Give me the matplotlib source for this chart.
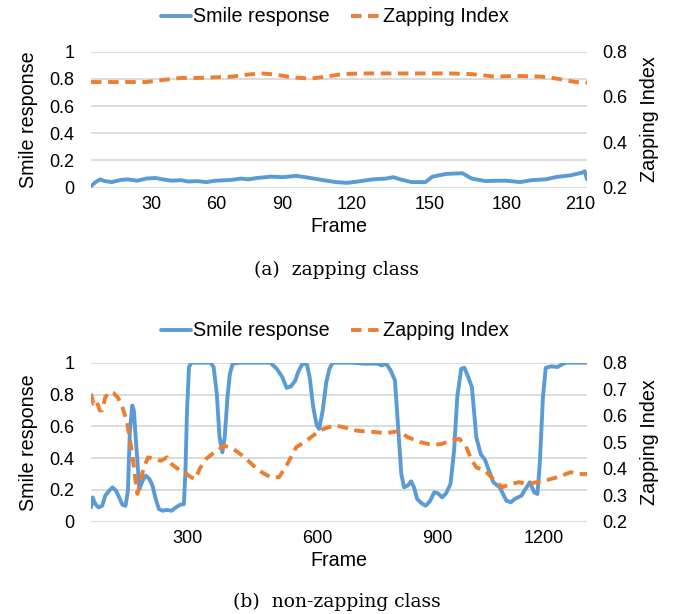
import matplotlib
matplotlib.use("Agg")
import matplotlib.pyplot as plt
from matplotlib.ticker import FuncFormatter

plt.rcParams["font.family"] = ["Liberation Sans", "DejaVu Sans"]

BLUE = "#5B9BD5"
ORANGE = "#ED7D31"
GRID = "#D9D9D9"

# ---- (a) zapping class : x = sample index along the Excel category axis ----
top_smile_x = [0, 2, 4, 6, 9, 13, 16, 20, 24, 28, 31, 35, 39, 42, 46, 50, 54, 61, 65, 68,
               72, 78, 83, 89, 95, 100, 106, 111, 117, 122, 128, 131, 134, 139, 145, 148,
               154, 161, 165, 171, 176, 180, 186, 191, 197, 202, 208, 213, 214, 215]
top_smile_y = [0.01, 0.04, 0.06, 0.047, 0.04, 0.056, 0.06, 0.05, 0.066, 0.07, 0.06, 0.05,
               0.054, 0.044, 0.047, 0.04, 0.05, 0.056, 0.066, 0.06, 0.07, 0.08, 0.076, 0.086,
               0.07, 0.056, 0.04, 0.034, 0.047, 0.06, 0.066, 0.076, 0.06, 0.04, 0.04, 0.08,
               0.10, 0.105, 0.066, 0.047, 0.05, 0.05, 0.04, 0.054, 0.06, 0.078, 0.09, 0.11,
               0.12, 0.06]
top_zap_x = [0, 24, 31, 39, 46, 54, 61, 68, 74, 80, 87, 95, 102, 109, 117, 156, 165, 175,
             184, 195, 202, 210, 215]
top_zap_y = [0.666, 0.666, 0.675, 0.684, 0.684, 0.687, 0.69, 0.699, 0.704, 0.699, 0.687,
             0.681, 0.69, 0.701, 0.704, 0.704, 0.701, 0.69, 0.693, 0.69, 0.681, 0.666, 0.663]
top_tick_labels = ["30", "60", "90", "120", "150", "180", "210"]
top_tick_at = [26.3, 54.5, 82.7, 113.1, 146.6, 180.0, 212.0]
top_xmax = 215

# ---- (b) non-zapping class ----
bot_smile_x = [0, 4, 11, 19, 28, 36, 46, 54, 63, 71, 79, 87, 93, 98, 104, 108, 115, 122,
               130, 138, 147, 155, 162, 171, 180, 192, 203, 214, 225, 234, 238, 242, 247,
               253, 301, 309, 317, 324, 331, 337, 344, 350, 357, 376, 452, 468, 482, 493,
               504, 515, 522, 533, 544, 551, 560, 569, 575, 584, 593, 601, 609, 657, 690,
               722, 733, 744, 755, 766, 774, 782, 789, 798, 807, 814, 822, 833, 843, 854,
               865, 874, 885, 895, 906, 915, 923, 933, 941, 949, 960, 971, 982, 993, 1003,
               1014, 1030, 1047, 1058, 1068, 1085, 1095, 1106, 1117, 1125, 1131, 1139, 1146,
               1160, 1176, 1187, 1198, 1250]
bot_smile_y = [0.09, 0.153, 0.11, 0.09, 0.10, 0.164, 0.195, 0.216, 0.195, 0.153, 0.107, 0.10,
               0.195, 0.574, 0.731, 0.70, 0.447, 0.206, 0.258, 0.29, 0.269, 0.227, 0.153,
               0.08, 0.069, 0.074, 0.069, 0.09, 0.107, 0.11, 0.32, 0.70, 0.973, 1.0, 1.0,
               0.973, 0.805, 0.531, 0.437, 0.531, 0.784, 0.93, 0.994, 1.0, 1.0, 0.962, 0.91,
               0.842, 0.851, 0.889, 0.941, 0.994, 0.99, 0.91, 0.72, 0.605, 0.584, 0.70, 0.878,
               0.962, 1.0, 1.0, 0.994, 0.994, 0.983, 0.994, 0.952, 0.889, 0.594, 0.30, 0.216,
               0.227, 0.254, 0.216, 0.143, 0.116, 0.10, 0.128, 0.185, 0.179, 0.153, 0.179,
               0.237, 0.447, 0.784, 0.962, 0.968, 0.92, 0.847, 0.531, 0.426, 0.389, 0.321,
               0.248, 0.216, 0.132, 0.122, 0.143, 0.164, 0.206, 0.248, 0.185, 0.174, 0.363,
               0.784, 0.968, 0.977, 0.973, 0.99, 1.0, 1.0]
bot_zap_x = [0, 6, 14, 22, 28, 36, 46, 57, 68, 79, 90, 97, 104, 111, 117, 125, 133, 144,
             160, 176, 192, 203, 214, 225, 241, 252, 263, 274, 290, 306, 322, 333, 349, 365,
             387, 409, 430, 452, 474, 495, 517, 538, 560, 576, 593, 614, 636, 657, 679, 711,
             744, 776, 798, 830, 863, 885, 906, 928, 944, 960, 971, 993, 1009, 1036, 1058,
             1079, 1101, 1122, 1144, 1176, 1209, 1230, 1250]
bot_zap_y = [0.683, 0.645, 0.657, 0.62, 0.62, 0.67, 0.689, 0.685, 0.668, 0.632, 0.582, 0.519,
             0.456, 0.368, 0.305, 0.355, 0.405, 0.443, 0.437, 0.43, 0.443, 0.418, 0.405, 0.393,
             0.38, 0.368, 0.361, 0.40, 0.437, 0.456, 0.471, 0.487, 0.481, 0.468, 0.443, 0.412,
             0.387, 0.368, 0.368, 0.418, 0.481, 0.50, 0.525, 0.544, 0.554, 0.563, 0.557, 0.547,
             0.542, 0.539, 0.534, 0.542, 0.519, 0.50, 0.489, 0.494, 0.506, 0.513, 0.487, 0.431,
             0.405, 0.393, 0.368, 0.33, 0.342, 0.349, 0.342, 0.349, 0.355, 0.368, 0.387, 0.38,
             0.38]
bot_tick_labels = ["300", "600", "900", "1200"]
bot_tick_at = [242.7, 570.3, 872.7, 1141.9]
bot_xmax = 1250

W, H = 673, 614
fig = plt.figure(figsize=(W / 100, H / 100), dpi=100)

FS = 13        # tick labels
FS_LAB = 14.2  # axis titles and legend
g_fmt = FuncFormatter(lambda v, p: f"{v:g}")


def panel(rect, sx, sy, zx, zy, xmax, tick_at, tick_labels, right_ticks, legend_y, caption, cap_y):
    ax = fig.add_axes(rect)
    ax2 = ax.twinx()
    ax.plot(sx, sy, color=BLUE, lw=2.8, solid_joinstyle="round", solid_capstyle="round",
            label="Smile response")
    ax2.plot(zx, zy, color=ORANGE, lw=2.8, dashes=(2.7, 1.7), dash_capstyle="butt",
             label="Zapping Index")
    ax.set_xlim(0, xmax)
    ax.set_ylim(0, 1)
    ax2.set_ylim(0.2, 0.8)
    ax.set_yticks([0, 0.2, 0.4, 0.6, 0.8, 1])
    ax2.set_yticks(right_ticks)
    ax.yaxis.set_major_formatter(g_fmt)
    ax2.yaxis.set_major_formatter(g_fmt)
    ax.set_xticks(tick_at)
    ax.set_xticklabels(tick_labels)
    ax.grid(axis="y", color=GRID, lw=1.3)
    ax.set_axisbelow(True)
    for a in (ax, ax2):
        for s in a.spines.values():
            s.set_visible(False)
        a.tick_params(length=0, labelsize=FS)
    ax.tick_params(axis="y", pad=12)
    ax2.tick_params(axis="y", pad=11)
    ax.tick_params(axis="x", pad=6)
    ax.set_xlabel("Frame", fontsize=FS_LAB, labelpad=3)
    ax.set_ylabel("Smile response", fontsize=FS_LAB, labelpad=8)
    ax2.set_ylabel("Zapping Index", fontsize=FS_LAB, rotation=90, labelpad=9)

    h1, l1 = ax.get_legend_handles_labels()
    h2, l2 = ax2.get_legend_handles_labels()
    fig.legend(h1 + h2, l1 + l2, loc="center", bbox_to_anchor=(0.498, legend_y), ncol=2,
               frameon=False, fontsize=FS_LAB, handlelength=1.5, handletextpad=0.12,
               columnspacing=1.1, borderpad=0, borderaxespad=0)
    fig.text(0.5, cap_y, caption, ha="center", va="center", fontsize=13.5,
             family=["DejaVu Serif"])


panel([91 / W, 1 - 187.5 / H, 496 / W, 135.8 / H], top_smile_x, top_smile_y, top_zap_x,
      top_zap_y, top_xmax, top_tick_at, top_tick_labels, [0.2, 0.4, 0.6, 0.8],
      1 - 17 / H, "(a)  zapping class", 1 - 270 / H)
panel([91 / W, 1 - 521.7 / H, 496 / W, 159 / H], bot_smile_x, bot_smile_y, bot_zap_x,
      bot_zap_y, bot_xmax, bot_tick_at, bot_tick_labels,
      [0.2, 0.3, 0.4, 0.5, 0.6, 0.7, 0.8], 1 - 331 / H, "(b)  non-zapping class", 1 - 602 / H)

fig.savefig("out.png", dpi=100)
